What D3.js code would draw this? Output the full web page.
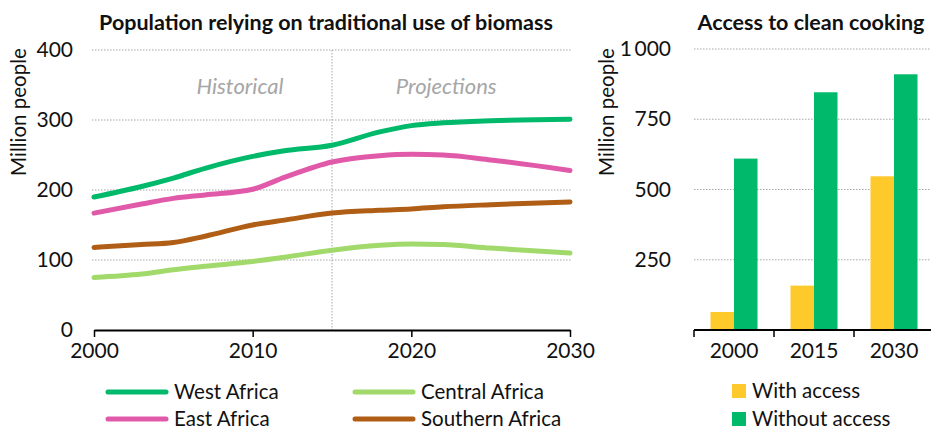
<!DOCTYPE html>
<html><head><meta charset="utf-8">
<script src="https://cdn.jsdelivr.net/npm/d3@7"></script>
<style>
body{margin:0;background:#fff}
svg text{font-family:Lato,"Open Sans","Noto Sans",sans-serif;fill:#111}
</style>
</head><body>
<svg id="c" width="931" height="430"></svg>
<script>
// ---- Data ----
const years = [2000, 2003, 2005, 2007, 2010, 2012, 2015, 2018, 2020, 2022, 2025, 2030];
const westAfrica     = [190, 205, 217, 231, 248, 256, 264, 283, 292, 296, 299, 301];
const eastAfrica     = [167, 180, 188, 193, 201, 218, 240, 249, 251, 250, 243, 228];
const southernAfrica = [118, 122, 125, 134, 150, 157, 167, 171, 173, 176, 179, 183];
const centralAfrica  = [ 75,  80,  86,  91,  98, 104, 114, 121, 123, 122, 117, 110];
const seriesNames  = ["West Africa", "Central Africa", "East Africa", "Southern Africa"];
const seriesColors = ["#00b96b", "#a1d96b", "#e05aa9", "#b05e15"];
const lineYTicks = [0, 100, 200, 300, 400];
const lineXTicks = [2000, 2010, 2020, 2030];

const barCategories = ["2000", "2015", "2030"];
const withAccess    = [64, 158, 547];
const withoutAccess = [610, 846, 910];
const barKeys   = ["With access", "Without access"];
const barColors = ["#fdc92b", "#00b96b"];
const barYTicks = [250, 500, 750, 1000];
const barYTickLabels = ["250", "500", "750", "1\u2009000"];

const TICK = "21px", LEG = "20.5px", TITLE = "21.5px";
const svg = d3.select("#c");

// ---- Left chart ----
const x = d3.scaleLinear().domain([2000, 2030]).range([94, 570]);
const y = d3.scaleLinear().domain([0, 400]).range([330, 50]);

svg.append("g").selectAll("line").data(lineYTicks.filter(d => d > 0)).join("line")
  .attr("x1", 92).attr("x2", 571).attr("y1", d => y(d)).attr("y2", d => y(d))
  .attr("stroke", "#a6a6a6").attr("stroke-width", 1).attr("stroke-dasharray", "1.5,1.5");
svg.append("line").attr("x1", x(2015)).attr("x2", x(2015)).attr("y1", y(400)).attr("y2", y(0))
  .attr("stroke", "#a6a6a6").attr("stroke-width", 1).attr("stroke-dasharray", "1.5,1.5");

const yAx = svg.append("g").attr("transform", "translate(92,0)")
  .call(d3.axisLeft(y).tickValues(lineYTicks).tickSize(0).tickPadding(19));
yAx.select(".domain").remove();
yAx.selectAll("text").style("font-size", TICK).attr("fill", "#111");

const xAx = svg.append("g").attr("transform", `translate(0,${y(0)})`)
  .call(d3.axisBottom(x).tickValues(lineXTicks).tickFormat(d3.format("d")).tickSize(7).tickSizeOuter(0).tickPadding(6));
xAx.select(".domain").attr("stroke", "#000").attr("stroke-width", 2);
xAx.selectAll(".tick line").attr("stroke", "#000").attr("stroke-width", 1.5);
xAx.selectAll("text").style("font-size", TICK).attr("fill", "#111");

const seriesData = [westAfrica, centralAfrica, eastAfrica, southernAfrica];
const line = d3.line().x((d, i) => x(years[i])).y(d => y(d)).curve(d3.curveMonotoneX);
svg.append("g").selectAll("path").data(seriesData).join("path")
  .attr("d", d => line(d)).attr("fill", "none")
  .attr("stroke", (d, i) => seriesColors[i]).attr("stroke-width", 5).attr("stroke-linecap", "round");

svg.append("text").attr("x", x(2009.2)).attr("y", 94).attr("text-anchor", "middle")
  .style("font-size", "22px").style("font-style", "italic").style("fill", "#a6a6a6").text("Historical");
svg.append("text").attr("x", x(2022.2)).attr("y", 94).attr("text-anchor", "middle")
  .style("font-size", "22px").style("font-style", "italic").style("fill", "#a6a6a6").text("Projections");

svg.append("text").attr("x", 326).attr("y", 30).attr("text-anchor", "middle")
  .style("font-size", TITLE).style("font-weight", "bold").text("Population relying on traditional use of biomass");
svg.append("text").attr("transform", "translate(26,112) rotate(-90)").attr("text-anchor", "middle")
  .style("font-size", LEG).text("Million people");

const legPos = [[108, 392], [355, 392], [108, 419], [355, 419]];
const leg = svg.append("g").selectAll("g").data(seriesNames).join("g")
  .attr("transform", (d, i) => `translate(${legPos[i][0]},${legPos[i][1]})`);
leg.append("line").attr("x1", 0).attr("x2", 58).attr("y1", 0).attr("y2", 0)
  .attr("stroke", (d, i) => seriesColors[i]).attr("stroke-width", 5).attr("stroke-linecap", "round");
leg.append("text").attr("x", 66).attr("y", 0).attr("dy", "0.35em").style("font-size", LEG).text(d => d);

// ---- Right chart ----
const xb = d3.scaleBand().domain(barCategories).range([694, 934]);
const xi = d3.scaleBand().domain(barKeys).range([16.5, 63.5]);
const yb = d3.scaleLinear().domain([0, 1000]).range([330, 49]);

svg.append("g").selectAll("line").data(barYTicks).join("line")
  .attr("x1", 694).attr("x2", 931).attr("y1", d => yb(d)).attr("y2", d => yb(d))
  .attr("stroke", "#a6a6a6").attr("stroke-width", 1).attr("stroke-dasharray", "1.5,1.5");

const ybAx = svg.append("g").attr("transform", "translate(694,0)")
  .call(d3.axisLeft(yb).tickValues(barYTicks).tickFormat((d, i) => barYTickLabels[i]).tickSize(0).tickPadding(23));
ybAx.select(".domain").remove();
ybAx.selectAll("text").style("font-size", TICK).attr("fill", "#111");

const barRows = barCategories.map((c, i) => ({cat: c, vals: [withAccess[i], withoutAccess[i]]}));
const grp = svg.append("g").selectAll("g").data(barRows).join("g")
  .attr("transform", d => `translate(${xb(d.cat)},0)`);
grp.selectAll("rect").data(d => d.vals.map((v, k) => ({k: barKeys[k], v, c: barColors[k]}))).join("rect")
  .attr("x", d => xi(d.k)).attr("width", xi.bandwidth())
  .attr("y", d => yb(d.v)).attr("height", d => yb(0) - yb(d.v)).attr("fill", d => d.c);

const xbAx = svg.append("g").attr("transform", `translate(0,${yb(0)})`)
  .call(d3.axisBottom(xb).tickSize(0).tickPadding(13));
xbAx.select(".domain").attr("d", "M694,0H934").attr("stroke", "#000").attr("stroke-width", 2);
xbAx.selectAll("text").style("font-size", TICK).attr("fill", "#111");
svg.append("g").selectAll("line").data(barCategories).join("line")
  .attr("x1", d => xb(d)).attr("x2", d => xb(d)).attr("y1", yb(0)).attr("y2", yb(0) + 7)
  .attr("stroke", "#000").attr("stroke-width", 1.5);

svg.append("text").attr("x", 811).attr("y", 30).attr("text-anchor", "middle")
  .style("font-size", TITLE).style("font-weight", "bold").text("Access to clean cooking");
svg.append("text").attr("transform", "translate(614,112) rotate(-90)").attr("text-anchor", "middle")
  .style("font-size", LEG).text("Million people");

const bleg = svg.append("g").selectAll("g").data(barKeys).join("g")
  .attr("transform", (d, i) => `translate(732,${384 + i * 28})`);
bleg.append("rect").attr("width", 14).attr("height", 14).attr("fill", (d, i) => barColors[i]);
bleg.append("text").attr("x", 20).attr("y", 7).attr("dy", "0.35em").style("font-size", LEG).text(d => d);
</script>
</body></html>
